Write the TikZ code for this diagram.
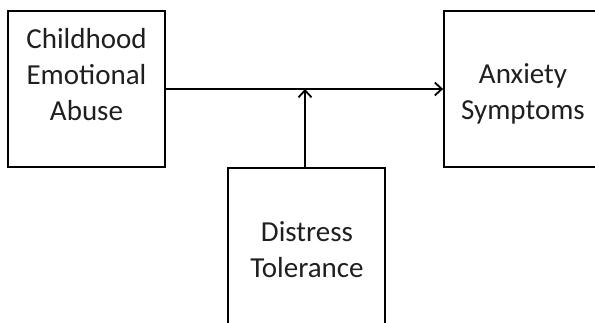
\documentclass[tikz,border=0pt]{standalone}
\usepackage{fontspec}
\setmainfont{Carlito}
\usetikzlibrary{arrows.meta}
\begin{document}
\begin{tikzpicture}[x=1pt,y=-1pt,
  box/.style={draw=black,line width=1.8pt,inner sep=0pt},
  lbl/.style={inner sep=0pt,align=center,font=\fontsize{29}{36}\selectfont,text=black!88},
  link/.style={line width=1.8pt,-{Straight Barb[length=7pt,width=13pt,line width=1.8pt]}}]
\useasboundingbox (0,0) rectangle (595,322);
\clip (0,0) rectangle (595,322);
\node[box,minimum width=157pt,minimum height=156pt] (cea) at (86.5,89) {};
\node[box,minimum width=158pt,minimum height=156pt] (anx) at (523,89) {};
\node[box,minimum width=157pt,minimum height=164pt] (dt) at (306.5,250) {};
\node[lbl] (ceat) at (86.5,75) {Childhood\\Emotional\\Abuse};
\node[lbl] (anxt) at (523,94) {Anxiety\\Symptoms};
\node[lbl] (dtt) at (307,250) {Distress\\Tolerance};
\draw[link] (cea.east) -- (anx.west);
\coordinate (dtn) at ([xshift=-1.5pt]dt.north);
\coordinate (m) at (dtn |- cea.east);
\draw[link] (dtn) -- (m);
\end{tikzpicture}
\end{document}
